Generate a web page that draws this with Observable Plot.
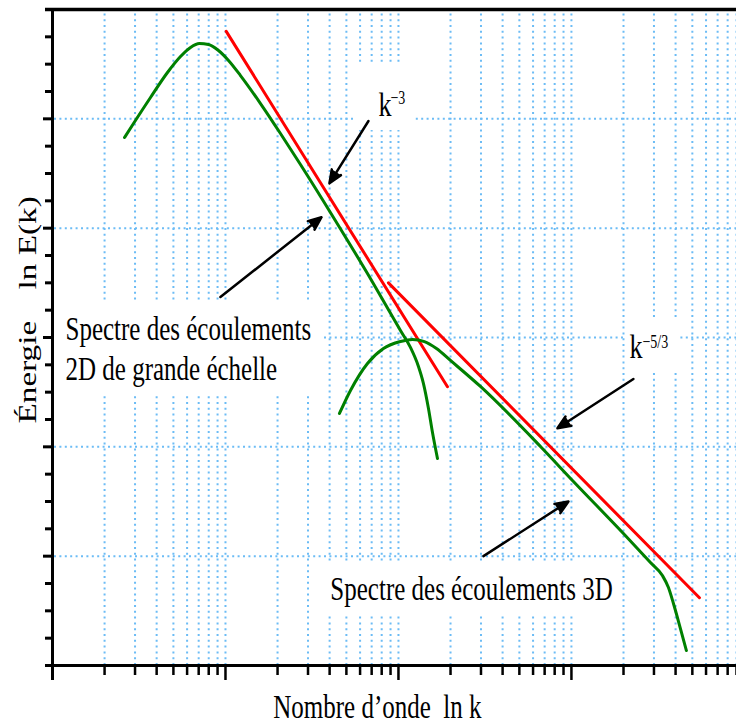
<!DOCTYPE html>
<html><head><meta charset="utf-8">
<script src="https://cdn.jsdelivr.net/npm/d3@7"></script>
<script src="https://cdn.jsdelivr.net/npm/@observablehq/plot@0.6"></script>
<style>html,body{margin:0;padding:0;background:#fff;overflow:hidden}</style>
</head><body><div id="chart"></div>
<script>
// ---- data (k = wavenumber, E = ln energy in axis units) ----
const spec2D_k = [2.608, 2.939, 3.686, 4.620, 5.495, 6.278, 7.073, 7.974, 9.110, 10.41, 12.21, 15.94, 20.79, 27.13, 42.11, 66.2, 102.7, 117.3, 130.5, 139.5, 149.1, 157.3, 168.1];
const spec2D_E = [4.829, 4.957, 5.195, 5.424, 5.570, 5.653, 5.689, 5.680, 5.625, 5.534, 5.396, 5.140, 4.866, 4.582, 4.098, 3.585, 3.064, 2.909, 2.735, 2.579, 2.351, 2.131, 1.893];
const spec3D_k = [45.6, 52.8, 66.2, 81.9, 102.7, 120.5, 141.3, 165.9, 199.8, 297.8, 662.0, 1027, 1998, 2862, 3357, 3637, 3888, 4267, 4620];
const spec3D_E = [2.305, 2.515, 2.762, 2.899, 2.963, 2.982, 2.963, 2.899, 2.790, 2.552, 2.003, 1.683, 1.207, 0.942, 0.823, 0.713, 0.567, 0.338, 0.137];
const slope3_k = [10.1, 192];
const slope3_E = [5.80, 2.55];
const slope53_k = [87.5, 5495];
const slope53_E = [3.50, 0.62];

const arrowFromK = [67.1, 9.35, 2282, 310];
const arrowFromE = [4.98, 3.37, 2.62, 1.00];
const arrowToK   = [39.9, 35.9, 830, 961];
const arrowToE   = [4.41, 4.10, 2.17, 1.50];

const labelText = ["Spectre des écoulements", "2D de grande échelle", "Spectre des écoulements 3D", "Nombre d’onde\u00a0\u00a0ln k"];
const labelK = [1.189, 1.189, 40.4, 18.9];
const labelE = [2.973, 2.607, 0.595, -0.476];

const kText = ["k", "k"];
const kK = [76.6, 2163];
const kE = [5.03, 2.808];
const supText = ["\u22123", "\u22125/3"];
const supK = [89.9, 2572];
const supE = [5.14, 2.90];

const yLabelText = ["Énergie", "ln E(k)"];
const yLabelK = [0.808, 0.808];
const yLabelE = [2.213, 3.439];

// white boxes behind annotations (k1,k2,E1,E2)
const boxK1 = [1.027, 35.4, 56.4, 2051];
const boxK2 = [36.4, 1920, 125.4, 4266];
const boxE1 = [2.488, 0.457, 4.893, 2.671];
const boxE2 = [3.311, 0.933, 5.488, 3.174];

const decades = [1, 10, 100, 1000];
const mantissas = [1, 2, 3, 4, 5, 6, 7, 8, 9];
const gridE = [1, 2, 3, 4, 5];

// ---- build tables ----
const toRows = (ks, es) => ks.map((k, i) => ({k, E: es[i]}));
const line2D = toRows(spec2D_k, spec2D_E);
const line3D = toRows(spec3D_k, spec3D_E);
const red3 = toRows(slope3_k, slope3_E);
const red53 = toRows(slope53_k, slope53_E);
const arrows = arrowFromK.map((k, i) => ({k1: k, E1: arrowFromE[i], k2: arrowToK[i], E2: arrowToE[i]}));
const labels = labelText.map((t, i) => ({t, k: labelK[i], E: labelE[i]}));
const kLabs = kText.map((t, i) => ({t, k: kK[i], E: kE[i]}));
const sups = supText.map((t, i) => ({t, k: supK[i], E: supE[i]}));
const yLabs = yLabelText.map((t, i) => ({t, k: yLabelK[i], E: yLabelE[i]}));
const boxes = boxK1.map((k, i) => ({k1: k, k2: boxK2[i], E1: boxE1[i], E2: boxE2[i]}));

const allK = decades.flatMap(d => mantissas.map(m => m * d));
const gridK = allK.filter(k => k > 1);
const minorK = allK.filter(k => !decades.includes(k));
const majorK = decades.filter(k => k > 1);
const yTicks = d3.range(1, 24).map(i => i * 0.25);
const yMinor = yTicks.filter(v => !Number.isInteger(v));
const yMajor = yTicks.filter(v => Number.isInteger(v));

const gridColor = "#6cbcf5";
const font = "Liberation Serif, Times New Roman, serif";

const chart = Plot.plot({
  width: 736, height: 724,
  marginLeft: 52, marginRight: 0, marginTop: 9, marginBottom: 59,
  style: {background: "white", fontFamily: font},
  x: {type: "log", domain: [1, 9000], axis: null},
  y: {domain: [0, 6], axis: null},
  marks: [
    Plot.ruleX(gridK, {y1: 0, y2: 6, stroke: gridColor, strokeWidth: 2, strokeDasharray: "2,3.8"}),
    Plot.ruleY(gridE, {x1: 1.027, x2: 9000, stroke: gridColor, strokeWidth: 2, strokeDasharray: "2,3.4"}),
    Plot.rect(boxes, {x1: "k1", x2: "k2", y1: "E1", y2: "E2", fill: "white"}),
    // axes and ticks
    Plot.ruleX(minorK, {y1: 0, y2: -0.0915, stroke: "black", strokeWidth: 2.5}),
    Plot.ruleX(majorK, {y1: 0, y2: -0.137, stroke: "black", strokeWidth: 2.5}),
    Plot.ruleY(yMinor, {x1: 0.911, x2: 1, stroke: "black", strokeWidth: 3}),
    Plot.ruleY(yMajor, {x1: 0.887, x2: 1, stroke: "black", strokeWidth: 3}),
    Plot.ruleX([1], {y1: -0.137, y2: 6.01, stroke: "black", strokeWidth: 3}),
    Plot.ruleY([0], {x1: 0.911, x2: 9000, stroke: "black", strokeWidth: 3}),
    Plot.ruleY([6], {x1: 0.911, x2: 9000, stroke: "black", strokeWidth: 3.5}),
    // curves
    Plot.line(red3, {x: "k", y: "E", stroke: "#ff0000", strokeWidth: 3}),
    Plot.line(red53, {x: "k", y: "E", stroke: "#ff0000", strokeWidth: 3}),
    Plot.line(line2D, {x: "k", y: "E", stroke: "#008000", strokeWidth: 3, curve: "monotone-x"}),
    Plot.line(line3D, {x: "k", y: "E", stroke: "#008000", strokeWidth: 3, curve: "monotone-x"}),
    // arrows
    Plot.arrow(arrows, {x1: "k1", y1: "E1", x2: "k2", y2: "E2", stroke: "black", fill: "black", strokeWidth: 2.5, headLength: 8.5, headAngle: 45}),
    // texts
    Plot.text(labels, {x: "k", y: "E", text: "t", textAnchor: "start", lineAnchor: "bottom", fontSize: 25, fontFamily: font, fill: "black", ariaDescription: "hlabel"}),
    Plot.text(kLabs, {x: "k", y: "E", text: "t", textAnchor: "start", lineAnchor: "bottom", fontSize: 26, fontFamily: font, fill: "black", ariaDescription: "hlabel"}),
    Plot.text(sups, {x: "k", y: "E", text: "t", textAnchor: "start", lineAnchor: "bottom", fontSize: 14, fontFamily: font, fill: "black", ariaDescription: "hlabel"}),
    Plot.text(yLabs, {x: "k", y: "E", text: "t", rotate: -90, textAnchor: "start", lineAnchor: "bottom", fontSize: 25, fontFamily: font, fill: "black", ariaDescription: "vlabel"})
  ]
});

function stretch(desc, sx, sy) {
  chart.querySelectorAll(`[aria-description="${desc}"] text, text[aria-description="${desc}"]`).forEach(el => {
    const t = el.getAttribute("transform");
    if (t) el.setAttribute("transform", `${t} scale(${sx},${sy})`);
    else {
      const x = +(el.getAttribute("x") || 0), y = +(el.getAttribute("y") || 0);
      el.setAttribute("transform", `translate(${x},${y}) scale(${sx},${sy}) translate(${-x},${-y})`);
    }
  });
}
stretch("hlabel", 1, 1.33);
stretch("vlabel", 1.33, 1);

document.getElementById("chart").appendChild(chart);
</script></body></html>
